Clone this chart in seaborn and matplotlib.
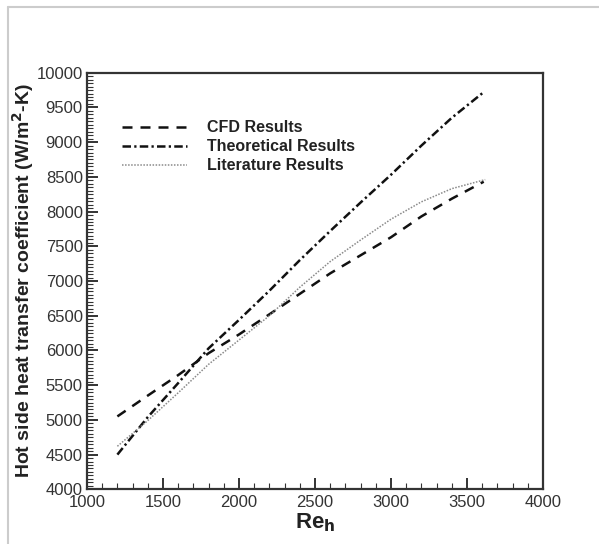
import numpy as np
import pandas as pd
import matplotlib
matplotlib.use('Agg')
import matplotlib.pyplot as plt
from matplotlib.lines import Line2D
from matplotlib.ticker import MultipleLocator
import seaborn as sns

# values
re_cfd = [1200, 1400, 1600, 1800, 2000, 2200, 2400, 2600, 2800, 3000, 3200, 3400, 3610]
h_cfd = [5050, 5350, 5645, 5960, 6230, 6520, 6815, 7110, 7370, 7630, 7930, 8185, 8430]

re_theory = [1200, 1400, 1600, 1800, 2000, 2200, 2400, 2600, 2800, 3000, 3200, 3400, 3610]
h_theory = [4500, 5040, 5530, 6030, 6440, 6860, 7300, 7720, 8130, 8530, 8950, 9350, 9720]

re_lit = [1200, 1400, 1600, 1800, 2000, 2200, 2400, 2600, 2800, 3000, 3200, 3400, 3620]
h_lit = [4620, 4990, 5390, 5800, 6150, 6500, 6910, 7280, 7590, 7890, 8140, 8330, 8460]

labels = ['CFD Results', 'Theoretical Results', 'Literature Results']

sns.set_style('white')
plt.rcParams['font.family'] = ['Liberation Sans', 'DejaVu Sans']

fig = plt.figure(figsize=(5.99, 5.44), dpi=100)
ax = fig.add_axes([0.1452, 0.1005, 0.7613, 0.7659])

df_cfd = pd.DataFrame({'Re': re_cfd, 'h': h_cfd})
df_th = pd.DataFrame({'Re': re_theory, 'h': h_theory})
df_lit = pd.DataFrame({'Re': re_lit, 'h': h_lit})

sns.lineplot(data=df_cfd, x='Re', y='h', ax=ax, color='#111111', lw=1.8,
             linestyle=(0, (4.0, 3.2)), label=labels[0])
sns.lineplot(data=df_th, x='Re', y='h', ax=ax, color='#111111', lw=1.8,
             linestyle=(0, (3.4, 1.3, 0.9, 1.3)), label=labels[1])
sns.lineplot(data=df_lit, x='Re', y='h', ax=ax, color='#8a8a8a', lw=1.1,
             linestyle=(0, (1, 1)), label=labels[2])

ax.set_xlim(1000, 4000)
ax.set_ylim(4000, 10000)
ax.xaxis.set_major_locator(MultipleLocator(500))
ax.xaxis.set_minor_locator(MultipleLocator(100))
ax.yaxis.set_major_locator(MultipleLocator(500))
ax.yaxis.set_minor_locator(MultipleLocator(50))
ax.tick_params(which='both', direction='in', bottom=True, left=True, top=False, right=False,
               colors='#333333', labelcolor='#333333')
ax.tick_params(which='major', length=8, width=1.4, labelsize=12, pad=3)
ax.tick_params(which='minor', length=4, width=0.8)
ax.tick_params(axis='x', which='major', pad=4)

for sp in ax.spines.values():
    sp.set_linewidth(1.6)
    sp.set_color('#333333')

ax.set_xlabel('Re$_\\mathbf{h}$', fontsize=16, fontweight='bold', color='#222222', labelpad=1)
ax.set_ylabel('Hot side heat transfer coefficient (W/m$^\\mathbf{2}$-K)', fontsize=14,
              fontweight='bold', color='#222222')
ax.yaxis.set_label_coords(-0.112, 0.5)

leg = ax.legend(loc='upper left', bbox_to_anchor=(0.059, 0.905), frameon=False,
                prop={'weight': 'bold', 'size': 11.5}, handlelength=4.1,
                handletextpad=1.2, labelspacing=0.25, borderpad=0)
for t in leg.get_texts():
    t.set_color('#222222')

# light grey frame of the original image
fig.add_artist(Line2D([8 / 599, 8 / 599], [0, 1 - 7 / 544], transform=fig.transFigure,
                      color='#cccccc', lw=1.5))
fig.add_artist(Line2D([8 / 599, 1], [1 - 7 / 544, 1 - 7 / 544], transform=fig.transFigure,
                      color='#cccccc', lw=1.5))

fig.savefig('out.png', dpi=100)
